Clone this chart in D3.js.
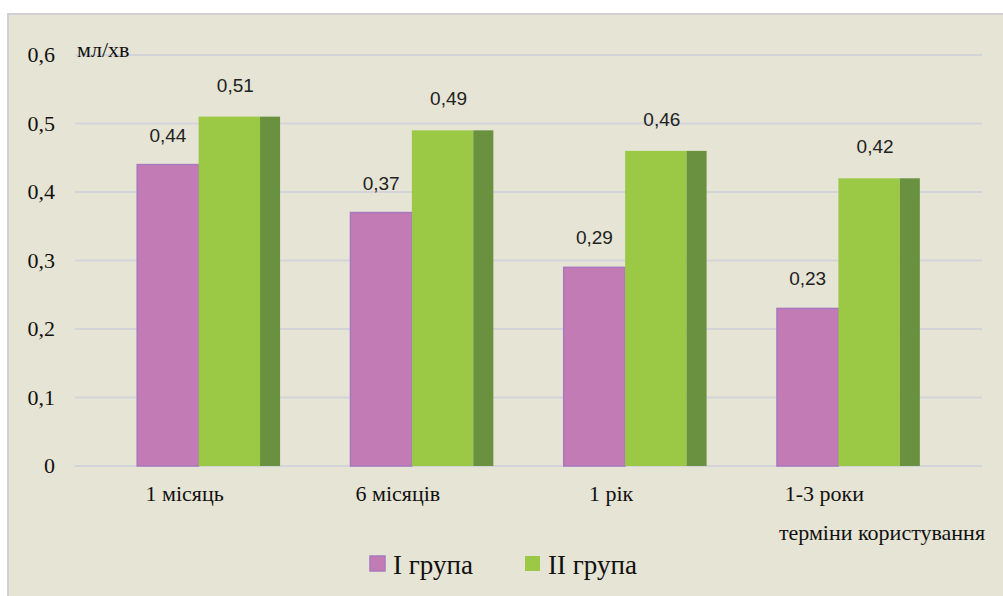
<!DOCTYPE html>
<html><head><meta charset="utf-8">
<script src="https://cdn.jsdelivr.net/npm/d3@7"></script>
</head><body style="margin:0"><svg id="c" width="1003" height="596" style="display:block;font-family:'Liberation Serif' !important"></svg>
<script>
const categories = ["1 місяць", "6 місяців", "1 рік", "1-3 роки"];
const group1 = [0.44, 0.37, 0.29, 0.23];
const group2 = [0.51, 0.49, 0.46, 0.42];
const yTicks = [0, 0.1, 0.2, 0.3, 0.4, 0.5, 0.6];
const seriesNames = ["I група", "II група"];
const fmt = v => String(v).replace(".", ",");
const serifStyle = size => `font-family:'Liberation Serif' !important;font-size:${size}px`;
const sansStyle = size => `font-family:'Liberation Sans' !important;font-size:${size}px`;

const svg = d3.select("#c");
svg.append("rect").attr("x", 8).attr("y", 14).attr("width", 1000).attr("height", 590)
  .attr("fill", "#E6E4D4").attr("stroke", "#D2D0D0").attr("stroke-width", 2);

const y = d3.scaleLinear().domain([0, 0.6]).range([466, 55]);
const x = d3.scaleBand().domain(categories).range([92, 945]);
const bw = x.bandwidth();
const barW = bw * 0.288, depth = bw * 0.094, off = bw * 0.212;

svg.append("g").selectAll("line").data(yTicks).join("line")
  .attr("x1", 75).attr("x2", 982).attr("y1", d => y(d)).attr("y2", d => y(d))
  .attr("stroke", "#D3D3DA").attr("stroke-width", 2);

svg.selectAll("text.ytick").data(yTicks).join("text").attr("class", "ytick")
  .attr("style", serifStyle(22))
  .attr("x", 55).attr("y", d => y(d) + 7).attr("text-anchor", "end")
  .attr("fill", "#111")
  .text(d => fmt(d));

svg.append("text").attr("style", serifStyle(22))
  .attr("x", 77).attr("y", 57).attr("fill", "#111").text("мл/хв");

svg.append("g").selectAll("rect").data(categories).join("rect")
  .attr("x", d => x(d) + off).attr("width", barW)
  .attr("y", (d, i) => y(group1[i])).attr("height", (d, i) => y(0) - y(group1[i]))
  .attr("fill", "#C27BB5").attr("stroke", "#A878BE").attr("stroke-width", 1.5);

svg.append("g").selectAll("rect").data(categories).join("rect")
  .attr("x", d => x(d) + off + barW).attr("width", barW)
  .attr("y", (d, i) => y(group2[i])).attr("height", (d, i) => y(0) - y(group2[i]))
  .attr("fill", "#9BC945");
svg.append("g").selectAll("rect").data(categories).join("rect")
  .attr("x", d => x(d) + off + 2 * barW).attr("width", depth)
  .attr("y", (d, i) => y(group2[i])).attr("height", (d, i) => y(0) - y(group2[i]))
  .attr("fill", "#6A9140");

svg.selectAll("text.v1").data(categories).join("text").attr("class", "v1")
  .attr("style", sansStyle(19))
  .attr("x", d => x(d) + off + barW / 2).attr("y", (d, i) => y(group1[i]) - 23)
  .attr("text-anchor", "middle").attr("fill", "#222")
  .text((d, i) => fmt(group1[i]));
svg.selectAll("text.v2").data(categories).join("text").attr("class", "v2")
  .attr("style", sansStyle(19))
  .attr("x", d => x(d) + off + barW + (barW + depth) / 2 - 4).attr("y", (d, i) => y(group2[i]) - 25)
  .attr("text-anchor", "middle").attr("fill", "#222")
  .text((d, i) => fmt(group2[i]));

svg.selectAll("text.cat").data(categories).join("text").attr("class", "cat")
  .attr("style", serifStyle(22))
  .attr("x", d => x(d) + bw / 2 - 14).attr("y", 501).attr("text-anchor", "middle")
  .attr("fill", "#111").text(d => d);

svg.append("text").attr("style", serifStyle(22))
  .attr("x", 985).attr("y", 540).attr("text-anchor", "end")
  .attr("fill", "#111").text("терміни користування");

const legend = [
  {name: seriesNames[0], fill: "#C27BB5", stroke: "#A878BE", x: 370},
  {name: seriesNames[1], fill: "#9BC945", stroke: "none", x: 525}
];
svg.selectAll("rect.lg").data(legend).join("rect").attr("class", "lg")
  .attr("x", d => d.x).attr("y", 556).attr("width", 15).attr("height", 15)
  .attr("fill", d => d.fill).attr("stroke", d => d.stroke).attr("stroke-width", 1.5);
svg.selectAll("text.lg").data(legend).join("text").attr("class", "lg")
  .attr("style", serifStyle(27))
  .attr("x", d => d.x + 23).attr("y", 574)
  .attr("fill", "#111").text(d => d.name);
</script></body></html>
